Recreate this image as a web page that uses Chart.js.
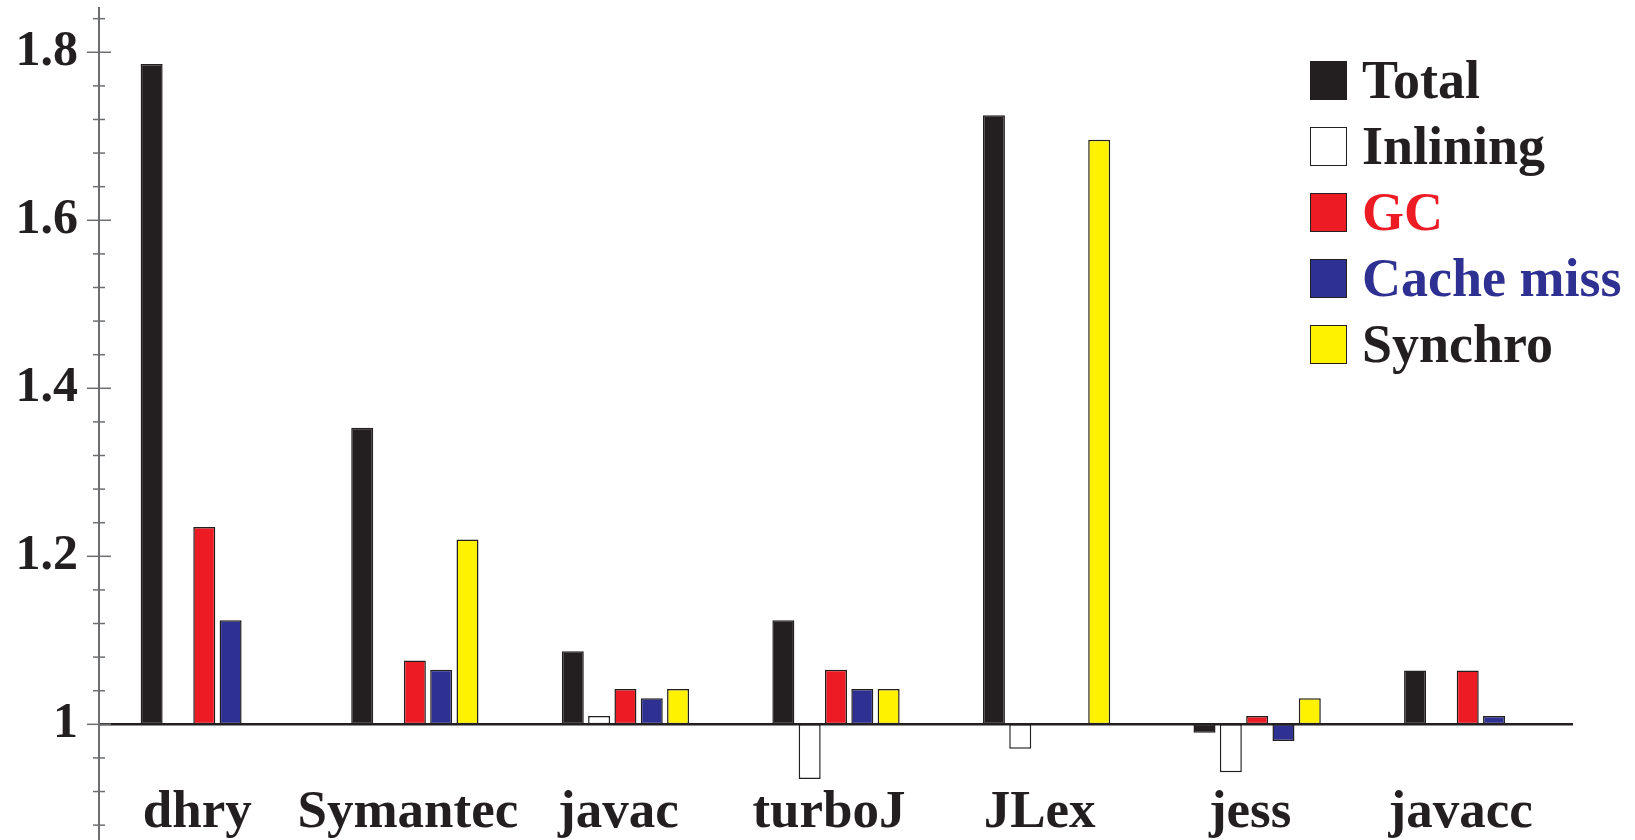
<!DOCTYPE html>
<html>
<head>
<meta charset="utf-8">
<script src="https://cdn.jsdelivr.net/npm/chart.js@4/dist/chart.umd.min.js"></script>
<style>
  html, body { margin: 0; padding: 0; background: #fff; overflow: hidden; }
  #wrap { position: relative; width: 1635px; height: 840px; }
  #legende { position: absolute; left: 1310px; top: 60px; font: bold 54px "Liberation Serif", serif; }
  .item { display: flex; align-items: center; height: 40px; margin-bottom: 26px; }
  .caja { width: 35px; height: 37px; border: 1.5px solid #231f20; margin-right: 15px; }
</style>
</head>
<body>
<div id="wrap">
  <canvas id="grafico" width="1635" height="840"></canvas>
  <div id="legende"></div>
</div>
<script>
const categorias = ['dhry', 'Symantec', 'javac', 'turboJ', 'JLex', 'jess', 'javacc'];

// null = sin barra
const total    = [1.786, 1.353, 1.087, 1.124, 1.725, 0.990, 1.064];
const inlining = [null,  null,  1.010, 0.935, 0.971, 0.943, null];
const gc       = [1.235, 1.076, 1.042, 1.065, null,  1.010, 1.064];
const cache    = [1.124, 1.065, 1.031, 1.042, null,  0.980, 1.010];
const synchro  = [null,  1.220, 1.042, 1.042, 1.696, 1.031, null];

const ticksY = [0.88, 0.92, 0.96, 1, 1.04, 1.08, 1.12, 1.16, 1.2, 1.24, 1.28, 1.32, 1.36,
                1.4, 1.44, 1.48, 1.52, 1.56, 1.6, 1.64, 1.68, 1.72, 1.76, 1.8, 1.84];
const ticksMayores = [1, 1.2, 1.4, 1.6, 1.8];

const series = [
  { nombre: 'Total',      datos: total,    color: '#231f20', texto: '#231f20' },
  { nombre: 'Inlining',   datos: inlining, color: '#ffffff', texto: '#231f20' },
  { nombre: 'GC',         datos: gc,       color: '#ed1c24', texto: '#ed1c24' },
  { nombre: 'Cache miss', datos: cache,    color: '#2e3192', texto: '#2e3192' },
  { nombre: 'Synchro',    datos: synchro,  color: '#fff200', texto: '#231f20' }
];

const esMayor = v => ticksMayores.some(m => Math.abs(m - v) < 1e-9);

// marcas del eje y a ambos lados
const marcasEje = {
  id: 'marcasEje',
  afterDatasetsDraw(chart) {
    const y = chart.scales.y;
    const ctx = chart.ctx;
    const x0 = chart.chartArea.left;
    ctx.save();
    ctx.strokeStyle = '#6d6e71';
    ctx.lineWidth = 1.5;
    y.ticks.forEach(t => {
      const py = y.getPixelForValue(t.value);
      const largo = esMayor(t.value) ? 12 : 6;
      ctx.beginPath();
      ctx.moveTo(x0 - largo, py);
      ctx.lineTo(x0 + largo, py);
      ctx.stroke();
    });
    ctx.restore();
  }
};

new Chart(document.getElementById('grafico'), {
  type: 'bar',
  data: {
    labels: categorias,
    datasets: series.map(s => ({
      label: s.nombre,
      data: s.datos.map(v => v === null ? null : [1, v]),
      backgroundColor: s.color,
      borderColor: '#231f20',
      borderWidth: 1.5,
      borderSkipped: false,
      categoryPercentage: 0.625,
      barPercentage: 0.836
    }))
  },
  options: {
    responsive: false,
    animation: false,
    layout: { padding: { top: 8, right: 62, left: 0, bottom: 0 } },
    plugins: { legend: { display: false }, tooltip: { enabled: false } },
    scales: {
      x: {
        afterFit(scale) {
          scale.height = 0;
          scale.paddingLeft = 0;
          scale.paddingRight = 0;
        },
        grid: { display: false },
        border: { display: false },
        ticks: {
          mirror: true,
          padding: 0,
          maxRotation: 0,
          minRotation: 0,
          autoSkip: false,
          labelOffset: -7,
          color: '#231f20',
          font: { family: 'Liberation Serif', weight: 'bold', size: 53, lineHeight: 1.02 }
        }
      },
      y: {
        min: 0.8623,
        max: 1.8527,
        afterFit(scale) {
          scale.width = 99;
          scale.paddingTop = 0;
          scale.paddingBottom = 0;
        },
        afterBuildTicks(scale) { scale.ticks = ticksY.map(v => ({ value: v })); },
        border: { display: true, color: '#6d6e71', width: 2 },
        grid: {
          drawTicks: false,
          color: c => (c.tick && c.tick.value === 1) ? '#231f20' : 'rgba(0,0,0,0)',
          lineWidth: c => (c.tick && c.tick.value === 1) ? 2.5 : 0
        },
        ticks: {
          padding: 21,
          autoSkip: false,
          color: '#231f20',
          font: { family: 'Liberation Serif', weight: 'bold', size: 50 },
          callback: v => esMayor(v) ? String(Math.round(v * 10) / 10) : ''
        }
      }
    }
  },
  plugins: [marcasEje]
});

// leyenda en HTML
const leyenda = document.getElementById('legende');
series.forEach(s => {
  const fila = document.createElement('div');
  fila.className = 'item';
  const caja = document.createElement('span');
  caja.className = 'caja';
  caja.style.background = s.color;
  const txt = document.createElement('span');
  txt.textContent = s.nombre;
  txt.style.color = s.texto;
  fila.appendChild(caja);
  fila.appendChild(txt);
  leyenda.appendChild(fila);
});
</script>
</body>
</html>
